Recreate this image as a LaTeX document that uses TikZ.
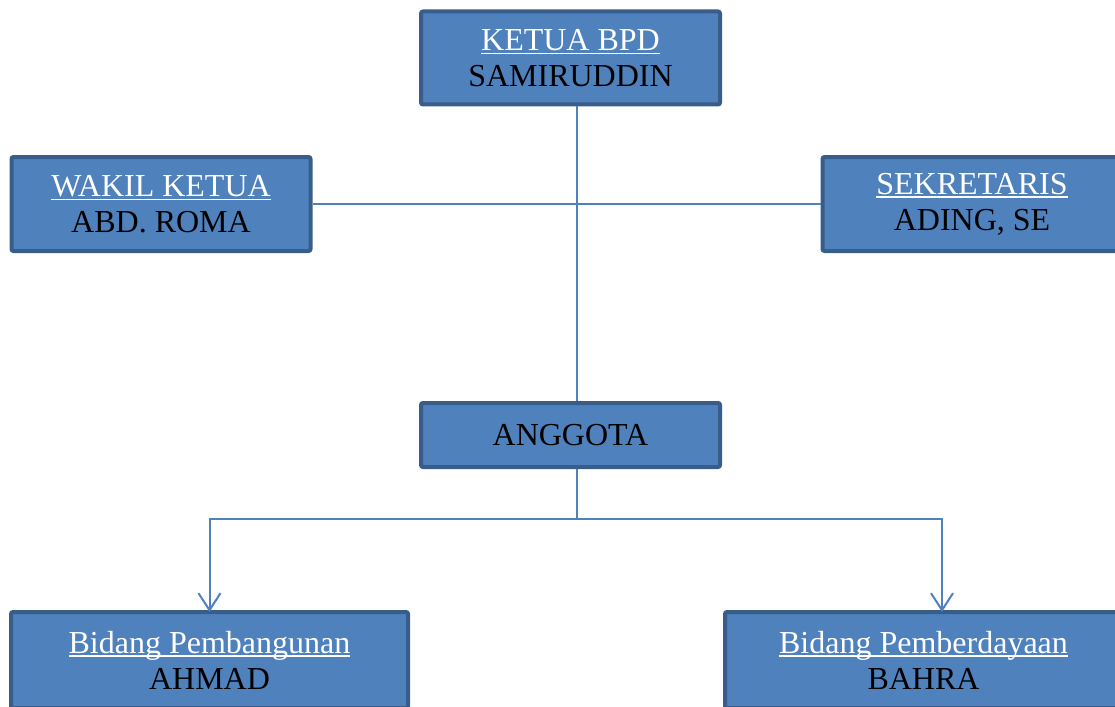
\documentclass[tikz,border=0pt]{standalone}
\usepackage{fontspec}
\setmainfont{Liberation Serif}
\usetikzlibrary{arrows.meta}

\definecolor{boxfill}{RGB}{79,129,189}
\definecolor{boxedge}{RGB}{56,93,138}
\definecolor{linkblue}{RGB}{79,129,189}

% white underlined title line
\newcommand{\ultitle}[1]{\textcolor{white}{\setbox0\hbox{#1}\rlap{\rule[-4pt]{\wd0}{1.8pt}}\box0}}

\begin{document}
\begin{tikzpicture}[x=1pt,y=-1pt,
    orgbox/.style={draw=boxedge, fill=boxfill, line width=4pt, rounded corners=2pt,
        minimum width=299pt, minimum height=93pt, inner sep=0pt, align=center,
        text=black, font=\fontsize{32}{36}\selectfont},
    widebox/.style={orgbox, minimum width=397pt},
    link/.style={draw=linkblue, line width=2pt},
    drop/.style={link, -{Straight Barb[length=17pt,width=22pt]}}]
    \useasboundingbox (0,0) rectangle (1115,706);

    % Ketua
    \node[orgbox] (ketua) at (570.5,58) {\ultitle{KETUA BPD}\\SAMIRUDDIN};

    % Wakil dan Sekretaris
    \node[orgbox, minimum height=94pt] (wakil) at (161,204) {\ultitle{WAKIL KETUA}\\ABD. ROMA};
    \node[orgbox, minimum height=94pt] (sekretaris) at (972,204) {\ultitle{SEKRETARIS}\\ADING, SE};

    % Anggota
    \node[orgbox, minimum height=64pt] (anggota) at (570.5,435) {ANGGOTA};

    % Bidang
    \node[widebox, minimum height=96pt] (pembangunan) at (209.5,660) {\ultitle{Bidang Pembangunan}\\AHMAD};
    \node[widebox, minimum height=96pt] (pemberdayaan) at (923.5,660) {\ultitle{Bidang Pemberdayaan}\\BAHRA};

    % Garis
    \draw[link] (wakil.east) -- (sekretaris.west);
    \draw[link] ([xshift=6.5pt]ketua.south) -- ([xshift=6.5pt]anggota.north);
    \draw[link] ([xshift=6.5pt]anggota.south) -- ++(0,50) coordinate (split);
    \draw[drop] (split) -| ([yshift=-2pt]pembangunan.north);
    \draw[drop] (split) -| ([xshift=18.5pt,yshift=-2pt]pemberdayaan.north);
\end{tikzpicture}
\end{document}
